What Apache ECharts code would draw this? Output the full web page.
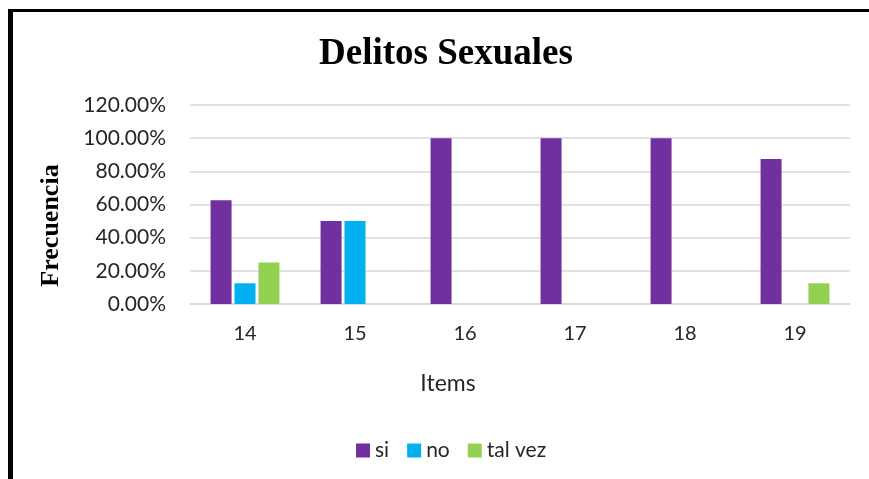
<!DOCTYPE html>
<html>
<head>
<meta charset="utf-8">
<script src="https://cdn.jsdelivr.net/npm/echarts@6/dist/echarts.min.js"></script>
<style>
html,body{margin:0;padding:0;background:#fff;}
#frame{position:absolute;left:8px;top:9px;width:869px;height:480px;border-left:5px solid #000;border-top:3px solid #000;box-sizing:border-box;}
#chart{position:absolute;left:0;top:0;width:869px;height:479px;}
</style>
</head>
<body>
<div id="frame"></div>
<div id="chart"></div>
<script>
const categories = ['14','15','16','17','18','19'];
const si = [62.5, 50, 100, 100, 100, 87.5];
const no = [12.5, 50, 0, 0, 0, 0];
const talVez = [25, 0, 0, 0, 0, 12.5];
const seriesNames = ['si','no','tal vez'];
const colors = ['#7030A0','#00B0F0','#92D050'];

const chart = echarts.init(document.getElementById('chart'));
const sans = 'Lato, "Open Sans", sans-serif';
const serif = '"Liberation Serif", "DejaVu Serif", serif';
chart.setOption({
  animation:false,
  title:{text:'Delitos Sexuales',left:441,top:31,textAlign:'center',
    textStyle:{fontFamily:serif,fontWeight:'bold',fontSize:37,color:'#000'}},
  legend:{top:435,left:351,itemWidth:14,itemHeight:14,itemGap:18,icon:'rect',
    textStyle:{fontFamily:sans,fontSize:21,color:'#262626'},data:seriesNames},
  grid:{left:190,right:19,top:105,bottom:175,containLabel:false},
  xAxis:{type:'category',data:categories,
    name:'Items',nameLocation:'middle',nameGap:68,
    nameTextStyle:{fontFamily:sans,fontSize:23,color:'#262626',padding:[0,144,0,0]},
    axisLine:{lineStyle:{color:'#d9d9d9',width:1.5}},axisTick:{show:false},
    axisLabel:{fontFamily:sans,fontSize:20,color:'#262626',margin:20}},
  yAxis:{type:'value',min:0,max:120,interval:20,
    name:'Frecuencia',nameLocation:'middle',nameGap:126,nameRotate:90,
    nameTextStyle:{fontFamily:serif,fontWeight:'bold',fontSize:26,color:'#000',padding:[0,42,0,0]},
    axisLine:{show:false},axisTick:{show:false},
    splitLine:{lineStyle:{color:'#d9d9d9',width:1.5}},
    axisLabel:{fontFamily:sans,fontSize:21,color:'#262626',margin:24,formatter:v=>v.toFixed(2)+'%'}},
  series:[
    {name:seriesNames[0],type:'bar',data:si,itemStyle:{color:colors[0]},barWidth:21,barGap:'14%'},
    {name:seriesNames[1],type:'bar',data:no,itemStyle:{color:colors[1]},barWidth:21,barGap:'14%'},
    {name:seriesNames[2],type:'bar',data:talVez,itemStyle:{color:colors[2]},barWidth:21,barGap:'14%'}
  ]
});
</script>
</body>
</html>
